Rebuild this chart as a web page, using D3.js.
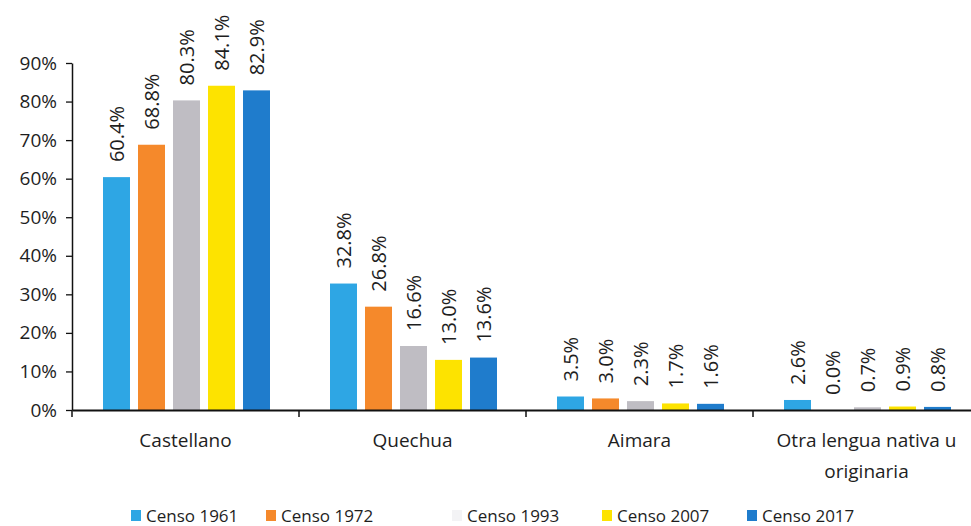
<!DOCTYPE html>
<html>
<head>
<meta charset="utf-8">
<script src="https://cdn.jsdelivr.net/npm/d3@7"></script>
<style>
  html, body { margin: 0; padding: 0; background: #fff; }
  svg { display: block; font-family: "Open Sans", "Noto Sans", sans-serif; }
</style>
</head>
<body>
<svg id="chart" width="971" height="526"></svg>
<script>
const categories = ["Castellano", "Quechua", "Aimara", "Otra lengua nativa u originaria"];
const seriesNames = ["Censo 1961", "Censo 1972", "Censo 1993", "Censo 2007", "Censo 2017"];
const censo1961 = [60.4, 32.8, 3.5, 2.6];
const censo1972 = [68.8, 26.8, 3.0, 0.0];
const censo1993 = [80.3, 16.6, 2.3, 0.7];
const censo2007 = [84.1, 13.0, 1.7, 0.9];
const censo2017 = [82.9, 13.6, 1.6, 0.8];
const yTicks = [0, 10, 20, 30, 40, 50, 60, 70, 80, 90];
const colors = ["#2ea6e4", "#f5892b", "#bfbdc3", "#fde300", "#1f7ccc"];
const legendSwatch = ["#2ea6e4", "#f5892b", "#f3f3f5", "#fde300", "#1f7ccc"];

const seriesValues = [censo1961, censo1972, censo1993, censo2007, censo2017];
const svg = d3.select("#chart");

const x0 = d3.scaleBand().domain(categories).range([72, 980]).padding(0);
const x1 = d3.scaleBand().domain(seriesNames).range([31, 198]).paddingInner(0.229).paddingOuter(0);
const y = d3.scaleLinear().domain([0, 90]).range([410, 63]);

const textColor = "#1e1e1e";

// bars
const groups = svg.append("g").selectAll("g")
  .data(categories)
  .join("g")
  .attr("transform", d => `translate(${x0(d)},0)`);

groups.selectAll("rect")
  .data((c, i) => seriesNames.map((s, j) => ({ s, j, v: seriesValues[j][i] })))
  .join("rect")
  .attr("x", d => x1(d.s))
  .attr("y", d => y(d.v))
  .attr("width", x1.bandwidth())
  .attr("height", d => y(0) - y(d.v))
  .attr("fill", d => colors[d.j]);

groups.selectAll("text.val")
  .data((c, i) => seriesNames.map((s, j) => ({ s, j, v: seriesValues[j][i] })))
  .join("text")
  .attr("class", "val")
  .attr("transform", d => `translate(${x1(d.s) + x1.bandwidth() / 2},${y(d.v) - 15}) rotate(-90)`)
  .attr("dy", "0.36em")
  .attr("text-anchor", "start")
  .attr("font-size", 20)
  .attr("fill", textColor)
  .text(d => d.v.toFixed(1) + "%");

// y axis
const yAxis = d3.axisLeft(y).tickValues(yTicks).tickFormat(d => d + "%").tickSize(6).tickSizeOuter(0);
const gy = svg.append("g").attr("transform", "translate(72,0)").call(yAxis);
gy.select(".domain").attr("stroke", "#111").attr("stroke-width", 1.5);
gy.selectAll(".tick line").attr("stroke", "#111").attr("stroke-width", 1.3);
gy.selectAll(".tick text").attr("font-size", 19).attr("fill", textColor).attr("x", -15)
  .attr("font-family", "'Open Sans', sans-serif");

// x axis
const xAxis = d3.axisBottom(x0).tickSize(0).tickSizeOuter(0).tickFormat("");
const gx = svg.append("g").attr("transform", "translate(0,410)").call(xAxis);
gx.select(".domain").attr("stroke", "#111").attr("stroke-width", 1.8);
// category boundary ticks
gx.selectAll("line.sep")
  .data(categories)
  .join("line")
  .attr("class", "sep")
  .attr("x1", d => x0(d)).attr("x2", d => x0(d))
  .attr("y1", 0).attr("y2", 7)
  .attr("stroke", "#111").attr("stroke-width", 1.5);

// category labels
const catLines = {
  "Castellano": ["Castellano"],
  "Quechua": ["Quechua"],
  "Aimara": ["Aimara"],
  "Otra lengua nativa u originaria": ["Otra lengua nativa u", "originaria"]
};
svg.append("g").selectAll("text")
  .data(categories)
  .join("text")
  .attr("x", d => x0(d) + x0.bandwidth() / 2)
  .attr("y", 447)
  .attr("text-anchor", "middle")
  .attr("font-size", 19)
  .attr("fill", textColor)
  .each(function (d) {
    const t = d3.select(this);
    const cx = x0(d) + x0.bandwidth() / 2;
    catLines[d].forEach((line, i) => {
      t.append("tspan").attr("x", cx).attr("dy", i === 0 ? 0 : 31).text(line);
    });
  });

// legend
const legendX = [131, 266, 452, 602, 747];
const lg = svg.append("g").selectAll("g")
  .data(seriesNames)
  .join("g")
  .attr("transform", (d, i) => `translate(${legendX[i]},510)`);
lg.append("rect").attr("width", 10).attr("height", 11).attr("fill", (d, i) => legendSwatch[i]);
lg.append("text")
  .attr("x", 15).attr("y", 11.5)
  .attr("font-size", 17)
  .attr("fill", textColor)
  .text(d => d);
</script>
</body>
</html>
